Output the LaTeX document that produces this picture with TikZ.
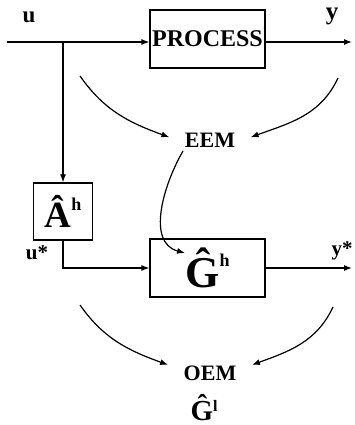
\documentclass[tikz,border=0pt]{standalone}
\usepackage{fontspec}
\setmainfont{Liberation Serif}
\usetikzlibrary{arrows.meta}
% estimate symbol: size, letter, sup size, sup letter, raise
\newcommand{\estim}[5]{{\fontsize{#1}{#1}\selectfont\^{#2}}\raisebox{#5}{\fontsize{#3}{#3}\selectfont #4}}

\begin{document}
\begin{tikzpicture}[x=1pt,y=1pt,line width=1.2pt,
  blk/.style={draw,rectangle,inner sep=0pt},
  lbl/.style={anchor=base,inner sep=0pt},
  crit/.style={anchor=base,inner xsep=15pt,inner ysep=6pt,
    font=\bfseries\fontsize{22}{22}\selectfont},
  arr/.style={-{Latex[length=8pt,width=6pt]}}]
\useasboundingbox (0,0) rectangle (354,425);
% blocks
\node[blk,minimum width=115,minimum height=58,
  font=\bfseries\fontsize{24}{24}\selectfont] (proc) at (207.5,386) {PROCESS};
\node[blk,minimum width=59,minimum height=57,font=\bfseries]
  (ahat) at (63,213.5) {\estim{37}{A}{18}{h}{17pt}};
\node[blk,minimum width=115,minimum height=58,font=\bfseries]
  (ghat) at (207.5,157) {\estim{44}{G}{18}{h}{21pt}};
% criteria
\node[crit] (eem) at (210,277) {EEM};
\node[crit] (oem) at (210,44) {OEM};
\node[lbl,font=\bfseries] (gl) at (204,5) {\estim{29}{G}{16}{l}{9pt}};
% signal labels
\node[lbl,font=\bfseries\fontsize{23}{23}\selectfont] (u) at (29,402) {u};
\node[lbl,font=\bfseries\fontsize{25}{25}\selectfont] (y) at (332,405) {y};
\node[lbl,font=\bfseries\fontsize{21}{21}\selectfont] (us) at (37,165) {u*};
\node[lbl,font=\bfseries\fontsize{21}{21}\selectfont] (ys) at (342,169) {y*};
% signal lines
\coordinate (uin) at (7,383);
\coordinate (split) at (63,383);
\coordinate (yout) at (352,383);
\coordinate (ysout) at (352,157);
\draw (uin) -- (split);
\draw[arr] (split) -- (split -| proc.west);
\draw[arr] (split) -- (ahat.north);
\draw[arr] (proc.east |- uin) -- (yout);
\draw[arr] (ahat.south) |- (ghat.west);
\draw[arr] (ghat.east) -- (ysout);
% curved arrows
\coordinate (c1) at (80,349);
\coordinate (c2) at (338,347);
\coordinate (c3) at (183,274);
\coordinate (gin) at (185,172);
\coordinate (c4) at (80,120);
\coordinate (c5) at (333,118);
\draw[arr] (c1) to[out=-55,in=160] (eem.175);
\draw[arr] (c2) to[out=245,in=20] (eem.5);
\draw[arr] (c3) to[out=240,in=165] (gin);
\draw[arr] (c4) to[out=-55,in=160] (oem.168);
\draw[arr] (c5) to[out=245,in=20] (oem.12);
\end{tikzpicture}
\end{document}
